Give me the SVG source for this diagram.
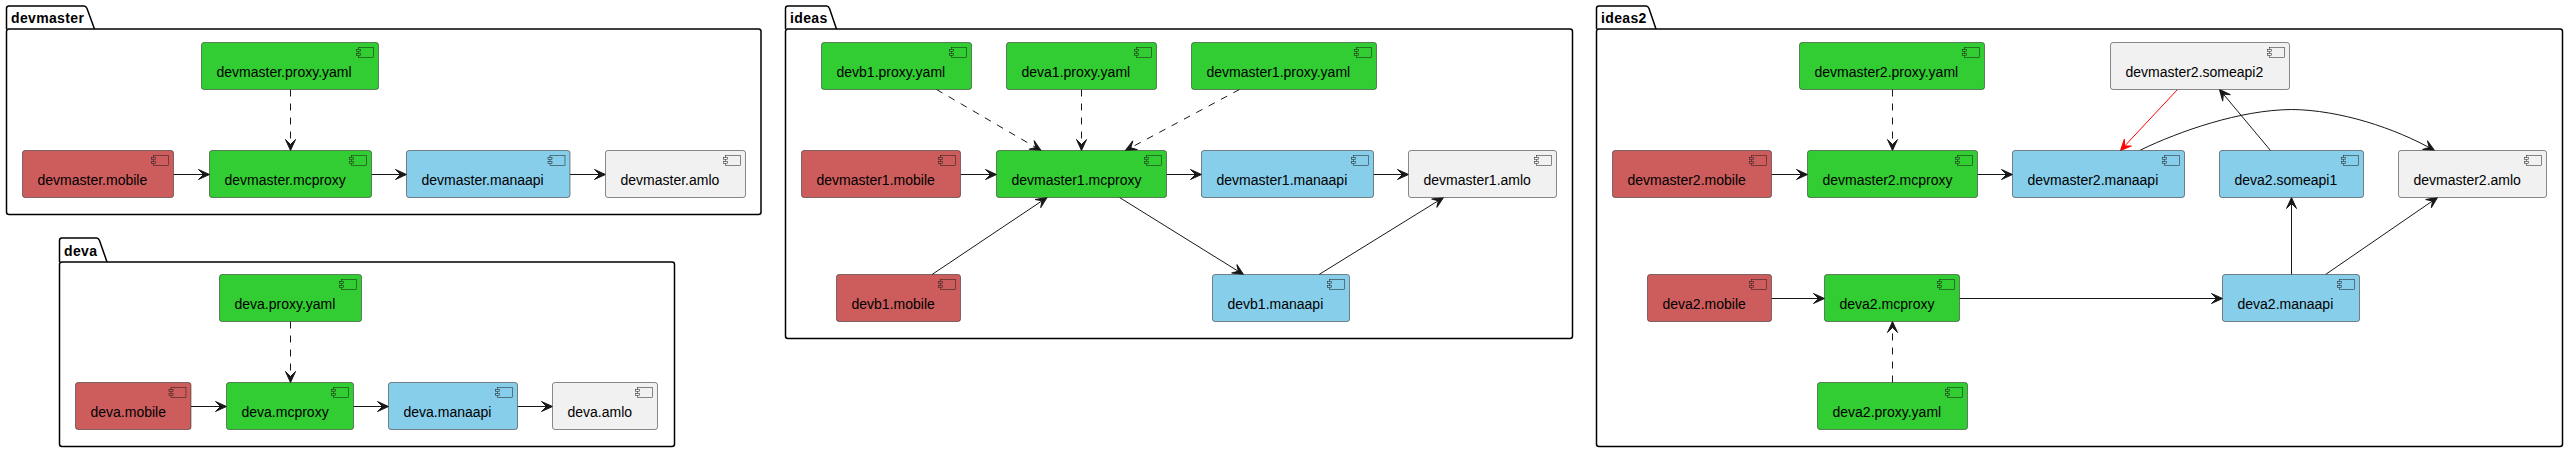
<svg xmlns="http://www.w3.org/2000/svg" width="2568" height="452" viewBox="0 0 2568 452">
<style>
text{font-family:"Liberation Sans",Arial,sans-serif;font-size:14px;fill:#000}
.p{fill:none;stroke:#000;stroke-width:1.5}
.t{font-weight:bold;letter-spacing:.35px}
.g{fill:#32CD32}.r{fill:#CD5C5C}.b{fill:#87CEEB}.w{fill:#F1F1F1}
.n rect,.n use{stroke:#181818;stroke-width:.5}
.e{fill:none;stroke:#181818;stroke-width:1;marker-end:url(#a)}
.d{stroke-dasharray:7 7}
.x{stroke:#FF0000;marker-end:url(#ar)}
</style>
<defs>
<marker id="a" markerUnits="userSpaceOnUse" markerWidth="16" markerHeight="14" refX="12" refY="7" orient="auto" overflow="visible"><path d="M12 7 1 2 6 7 1 12Z" fill="#181818" stroke="#181818" stroke-width="1"/></marker>
<marker id="ar" markerUnits="userSpaceOnUse" markerWidth="16" markerHeight="14" refX="12" refY="7" orient="auto" overflow="visible"><path d="M12 7 1 2 6 7 1 12Z" fill="#FF0000" stroke="#FF0000" stroke-width="1"/></marker>
<g id="ic"><rect x="2" width="15" height="10"/><rect y="2" width="4" height="2"/><rect y="6" width="4" height="2"/></g>
</defs>

<g id="pkg-devmaster"><rect class="p" x="6.500" y="29" width="754.500" height="185.500" rx="2.500"/><path class="p" d="M6.500 29V8.500Q6.500 6 9 6H84Q86 6 87 8.500L94.500 29"/><text class="t" x="11" y="23">devmaster</text></g>
<g id="pkg-deva"><rect class="p" x="59.500" y="262" width="615" height="184.500" rx="2.500"/><path class="p" d="M59.500 262V240.500Q59.500 238 62 238H96.500Q98.500 238 99.500 240.500L107 262"/><text class="t" x="64" y="256">deva</text></g>
<g id="pkg-ideas"><rect class="p" x="785.500" y="29" width="787" height="309.500" rx="2.500"/><path class="p" d="M785.500 29V8.500Q785.500 6 788 6H826.500Q828.500 6 829.500 8.500L836.500 29"/><text class="t" x="790" y="23">ideas</text></g>
<g id="pkg-ideas2"><rect class="p" x="1596.500" y="29" width="966" height="417.500" rx="2.500"/><path class="p" d="M1596.500 29V8.500Q1596.500 6 1599 6H1646Q1648 6 1649 8.500L1656 29"/><text class="t" x="1601" y="23">ideas2</text></g>

<g id="connectors">
<path class="e d" d="M290.500 89.500V150.500"/>
<path class="e" d="M173.500 174.500H209.500"/>
<path class="e" d="M371.500 174.500H406.500"/>
<path class="e" d="M570 174.500H605.500"/>
<path class="e d" d="M290.500 321.500V382.500"/>
<path class="e" d="M191 406.500H226.500"/>
<path class="e" d="M353.500 406.500H388.500"/>
<path class="e" d="M517.500 406.500H552.500"/>
<path class="e d" d="M936.500 89.500L1041 150.500"/>
<path class="e d" d="M1081.500 89.500V150.500"/>
<path class="e d" d="M1239.500 89.500L1125.500 150.500"/>
<path class="e" d="M960.500 174.500H996.500"/>
<path class="e" d="M1166.500 174.500H1201.500"/>
<path class="e" d="M1373.500 174.500H1408.500"/>
<path class="e" d="M932 274.500L1047 197.500"/>
<path class="e" d="M1119.500 197.500L1243.500 274.500"/>
<path class="e" d="M1319 274.500L1443.500 197.500"/>
<path class="e d" d="M1892.500 89.500V150.500"/>
<path class="e" d="M1771.500 174.500H1807.500"/>
<path class="e" d="M1977.500 174.500H2012.500"/>
<path class="e x" d="M2177.500 89.500L2120.500 150.500"/>
<path class="e" d="M2270.500 150.500L2219.500 89.500"/>
<path class="e" d="M2140.500 150C2180 131 2240 110 2291.500 109.500C2340 110 2395 128 2434.500 150.500"/>
<path class="e" d="M2291.500 274.500V197.500"/>
<path class="e" d="M2325.500 274.500L2437.500 197.500"/>
<path class="e" d="M1771.500 298.500H1824.500"/>
<path class="e" d="M1959.500 298.500H2222.500"/>
<path class="e d" d="M1892.500 382.500V321.500"/>
</g>

<g id="devmaster.proxy.yaml" class="n g"><rect x="201.500" y="42.500" width="177" height="47" rx="2.500"/><use href="#ic" x="356.500" y="47.500"/><text x="216.500" y="77">devmaster.proxy.yaml</text></g>
<g id="devmaster.mobile" class="n r"><rect x="22.500" y="150.500" width="151" height="47" rx="2.500"/><use href="#ic" x="151.500" y="155.500"/><text x="37.500" y="185">devmaster.mobile</text></g>
<g id="devmaster.mcproxy" class="n g"><rect x="209.500" y="150.500" width="162" height="47" rx="2.500"/><use href="#ic" x="349.500" y="155.500"/><text x="224.500" y="185">devmaster.mcproxy</text></g>
<g id="devmaster.manaapi" class="n b"><rect x="406.500" y="150.500" width="163.500" height="47" rx="2.500"/><use href="#ic" x="548" y="155.500"/><text x="421.500" y="185">devmaster.manaapi</text></g>
<g id="devmaster.amlo" class="n w"><rect x="605.500" y="150.500" width="140" height="47" rx="2.500"/><use href="#ic" x="723.500" y="155.500"/><text x="620.500" y="185">devmaster.amlo</text></g>

<g id="deva.proxy.yaml" class="n g"><rect x="219.500" y="274.500" width="142" height="47" rx="2.500"/><use href="#ic" x="339.500" y="279.500"/><text x="234.500" y="309">deva.proxy.yaml</text></g>
<g id="deva.mobile" class="n r"><rect x="75.500" y="382.500" width="115.500" height="47" rx="2.500"/><use href="#ic" x="169" y="387.500"/><text x="90.500" y="417">deva.mobile</text></g>
<g id="deva.mcproxy" class="n g"><rect x="226.500" y="382.500" width="127" height="47" rx="2.500"/><use href="#ic" x="331.500" y="387.500"/><text x="241.500" y="417">deva.mcproxy</text></g>
<g id="deva.manaapi" class="n b"><rect x="388.500" y="382.500" width="129" height="47" rx="2.500"/><use href="#ic" x="495.500" y="387.500"/><text x="403.500" y="417">deva.manaapi</text></g>
<g id="deva.amlo" class="n w"><rect x="552.500" y="382.500" width="105" height="47" rx="2.500"/><use href="#ic" x="635.500" y="387.500"/><text x="567.500" y="417">deva.amlo</text></g>

<g id="devb1.proxy.yaml" class="n g"><rect x="821.500" y="42.500" width="150" height="47" rx="2.500"/><use href="#ic" x="949.500" y="47.500"/><text x="836.500" y="77">devb1.proxy.yaml</text></g>
<g id="deva1.proxy.yaml" class="n g"><rect x="1006.500" y="42.500" width="150" height="47" rx="2.500"/><use href="#ic" x="1134.500" y="47.500"/><text x="1021.500" y="77">deva1.proxy.yaml</text></g>
<g id="devmaster1.proxy.yaml" class="n g"><rect x="1191.500" y="42.500" width="185" height="47" rx="2.500"/><use href="#ic" x="1354.500" y="47.500"/><text x="1206.500" y="77">devmaster1.proxy.yaml</text></g>
<g id="devmaster1.mobile" class="n r"><rect x="801.500" y="150.500" width="159" height="47" rx="2.500"/><use href="#ic" x="938.500" y="155.500"/><text x="816.500" y="185">devmaster1.mobile</text></g>
<g id="devmaster1.mcproxy" class="n g"><rect x="996.500" y="150.500" width="170" height="47" rx="2.500"/><use href="#ic" x="1144.500" y="155.500"/><text x="1011.500" y="185">devmaster1.mcproxy</text></g>
<g id="devmaster1.manaapi" class="n b"><rect x="1201.500" y="150.500" width="172" height="47" rx="2.500"/><use href="#ic" x="1351.500" y="155.500"/><text x="1216.500" y="185">devmaster1.manaapi</text></g>
<g id="devmaster1.amlo" class="n w"><rect x="1408.500" y="150.500" width="148" height="47" rx="2.500"/><use href="#ic" x="1534.500" y="155.500"/><text x="1423.500" y="185">devmaster1.amlo</text></g>
<g id="devb1.mobile" class="n r"><rect x="836.500" y="274.500" width="124" height="47" rx="2.500"/><use href="#ic" x="938.500" y="279.500"/><text x="851.500" y="309">devb1.mobile</text></g>
<g id="devb1.manaapi" class="n b"><rect x="1212.500" y="274.500" width="137" height="47" rx="2.500"/><use href="#ic" x="1327.500" y="279.500"/><text x="1227.500" y="309">devb1.manaapi</text></g>

<g id="devmaster2.proxy.yaml" class="n g"><rect x="1799.500" y="42.500" width="185" height="47" rx="2.500"/><use href="#ic" x="1962.500" y="47.500"/><text x="1814.500" y="77">devmaster2.proxy.yaml</text></g>
<g id="devmaster2.someapi2" class="n w"><rect x="2110.500" y="42.500" width="179" height="47" rx="2.500"/><use href="#ic" x="2267.500" y="47.500"/><text x="2125.500" y="77">devmaster2.someapi2</text></g>
<g id="devmaster2.mobile" class="n r"><rect x="1612.500" y="150.500" width="159" height="47" rx="2.500"/><use href="#ic" x="1749.500" y="155.500"/><text x="1627.500" y="185">devmaster2.mobile</text></g>
<g id="devmaster2.mcproxy" class="n g"><rect x="1807.500" y="150.500" width="170" height="47" rx="2.500"/><use href="#ic" x="1955.500" y="155.500"/><text x="1822.500" y="185">devmaster2.mcproxy</text></g>
<g id="devmaster2.manaapi" class="n b"><rect x="2012.500" y="150.500" width="172" height="47" rx="2.500"/><use href="#ic" x="2162.500" y="155.500"/><text x="2027.500" y="185">devmaster2.manaapi</text></g>
<g id="deva2.someapi1" class="n b"><rect x="2219.500" y="150.500" width="144" height="47" rx="2.500"/><use href="#ic" x="2341.500" y="155.500"/><text x="2234.500" y="185">deva2.someapi1</text></g>
<g id="devmaster2.amlo" class="n w"><rect x="2398.500" y="150.500" width="148" height="47" rx="2.500"/><use href="#ic" x="2524.500" y="155.500"/><text x="2413.500" y="185">devmaster2.amlo</text></g>
<g id="deva2.mobile" class="n r"><rect x="1647.500" y="274.500" width="124" height="47" rx="2.500"/><use href="#ic" x="1749.500" y="279.500"/><text x="1662.500" y="309">deva2.mobile</text></g>
<g id="deva2.mcproxy" class="n g"><rect x="1824.500" y="274.500" width="135" height="47" rx="2.500"/><use href="#ic" x="1937.500" y="279.500"/><text x="1839.500" y="309">deva2.mcproxy</text></g>
<g id="deva2.manaapi" class="n b"><rect x="2222.500" y="274.500" width="137" height="47" rx="2.500"/><use href="#ic" x="2337.500" y="279.500"/><text x="2237.500" y="309">deva2.manaapi</text></g>
<g id="deva2.proxy.yaml" class="n g"><rect x="1817.500" y="382.500" width="150" height="47" rx="2.500"/><use href="#ic" x="1945.500" y="387.500"/><text x="1832.500" y="417">deva2.proxy.yaml</text></g>
</svg>
